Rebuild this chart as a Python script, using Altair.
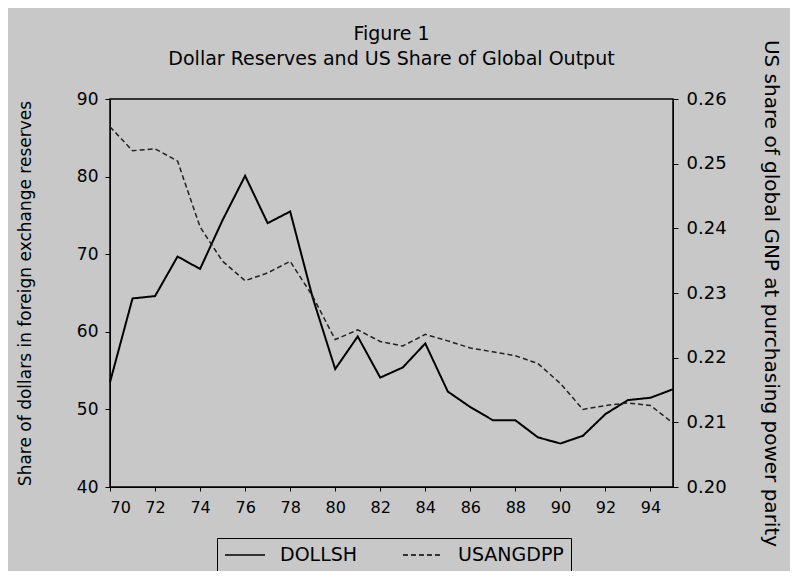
import altair as alt
import pandas as pd

years = list(range(70, 96))
dollsh = [53.5, 64.3, 64.6, 69.7, 68.1, 74.4, 80.1, 74.0, 75.5, 64.4,
          55.2, 59.4, 54.1, 55.4, 58.5, 52.3, 50.3, 48.6, 48.6, 46.4,
          45.6, 46.6, 49.4, 51.2, 51.5, 52.6]
usangdpp = [0.2557, 0.2520, 0.2523, 0.2504, 0.2402, 0.2349, 0.2319, 0.2331, 0.2349, 0.2295,
            0.2228, 0.2243, 0.2225, 0.2218, 0.2236, 0.2226, 0.2215, 0.2209, 0.2203, 0.2191,
            0.2160, 0.2120, 0.2126, 0.2130, 0.2126, 0.2099]
series_names = ["DOLLSH", "USANGDPP"]
x_ticks = list(range(70, 95, 2))
left_ticks = [40, 50, 60, 70, 80, 90]
right_ticks = [0.20, 0.21, 0.22, 0.23, 0.24, 0.25, 0.26]

df = pd.DataFrame({
    "year": years * 2,
    "value": dollsh + usangdpp,
    "series": ["DOLLSH"] * len(years) + ["USANGDPP"] * len(years),
})

FONT = "DejaVu Sans"
dash_scale = alt.Scale(domain=series_names, range=[[1, 0], [5, 3]])

xenc = alt.X("year:Q", scale=alt.Scale(domain=[70, 95], nice=False),
             axis=alt.Axis(values=x_ticks, format="d", title=None, grid=False,
                           labelFontSize=16, labelPadding=8, tickSize=4,
                           domainColor="black", tickColor="black",
                           labelColor="black", labelFont=FONT))

legend = alt.Legend(title=None, orient="none", legendX=107, legendY=439,
                    direction="horizontal", strokeColor="black", padding=7,
                    symbolType="stroke", symbolSize=1600, symbolStrokeWidth=1.5,
                    symbolStrokeColor="black", labelFontSize=19, labelFont=FONT,
                    labelColor="black", columnPadding=44, labelOffset=14,
                    clipHeight=20)

solid = alt.Chart(df).transform_filter(alt.datum.series == "DOLLSH").mark_line(
    color="black", strokeWidth=2).encode(
    x=xenc,
    y=alt.Y("value:Q", scale=alt.Scale(domain=[40, 90], nice=False),
            axis=alt.Axis(values=left_ticks, format="d", grid=False,
                          title="Share of dollars in foreign exchange reserves",
                          titleFontSize=17, titleFont=FONT, titleFontWeight="normal",
                          titleX=-85, titleY=194, titleAngle=270,
                          titleAlign="center", titleBaseline="middle",
                          labelFontSize=17, labelFont=FONT, labelPadding=7,
                          tickSize=5, domainColor="black", tickColor="black",
                          labelColor="black", titleColor="black")),
    strokeDash=alt.StrokeDash("series:N", scale=dash_scale, legend=legend),
)

dashed = alt.Chart(df).transform_filter(alt.datum.series == "USANGDPP").mark_line(
    color="#222222", strokeWidth=1.5).encode(
    x=xenc,
    y=alt.Y("value:Q", scale=alt.Scale(domain=[0.20, 0.26], nice=False, zero=False),
            axis=alt.Axis(values=right_ticks, format=".2f", grid=False, orient="right",
                          title="US share of global GNP at purchasing power parity",
                          titleFontSize=20, titleFont=FONT, titleFontWeight="normal",
                          titleX=97, titleY=194, titleAngle=90,
                          titleAlign="center", titleBaseline="middle",
                          labelFontSize=18, labelFont=FONT, labelPadding=8,
                          tickSize=5, domainColor="black", tickColor="black",
                          labelColor="black", titleColor="black")),
    strokeDash=alt.StrokeDash("series:N", scale=dash_scale, legend=legend),
)

chart = alt.layer(solid, dashed).resolve_scale(y="independent").properties(
    width=563, height=388,
    autosize=alt.AutoSizeParams(type="none"),
    padding={"left": 102, "top": 91, "right": 117, "bottom": 84},
    background="#c8c8c8",
    title=alt.TitleParams(text=["Figure 1", "Dollar Reserves and US Share of Global Output"],
                          anchor="middle", font=FONT, fontSize=19, fontWeight="normal",
                          lineHeight=25, offset=-30, color="black"),
).configure_view(stroke="black", strokeWidth=1.5)

chart.save("out.html", embed_options={"renderer": "svg", "actions": False})
